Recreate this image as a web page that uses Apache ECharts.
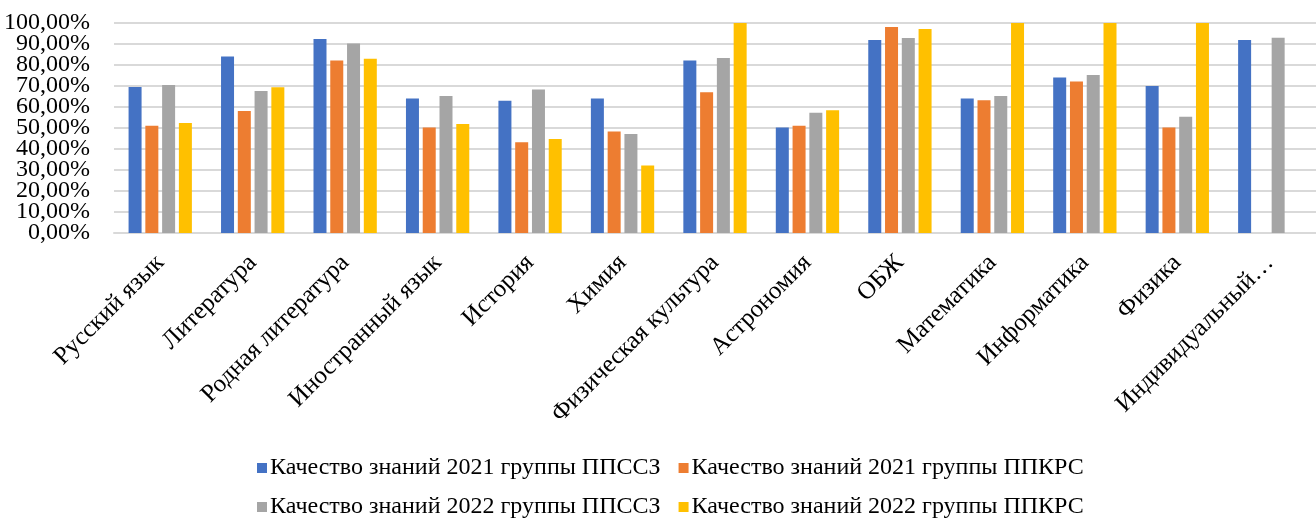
<!DOCTYPE html>
<html>
<head>
<meta charset="utf-8">
<script src="https://cdn.jsdelivr.net/npm/echarts@6/dist/echarts.min.js"></script>
<style>
html,body{margin:0;padding:0;background:#fff;}
#chart{width:1316px;height:520px;}
</style>
</head>
<body>
<div id="chart"></div>
<script>
const categories = ["Русский язык","Литература","Родная литература","Иностранный язык","История","Химия","Физическая культура","Астрономия","ОБЖ","Математика","Информатика","Физика","Индивидуальный проект"];
const seriesNames = ["Качество знаний 2021 группы ППССЗ","Качество знаний 2021 группы ППКРС","Качество знаний 2022 группы ППССЗ","Качество знаний 2022 группы ППКРС"];
const ppssz2021 = [69.5, 84.0, 92.4, 64.1, 63.0, 64.0, 82.1, 50.2, 91.9, 64.0, 74.0, 70.0, 91.9];
const ppkrs2021 = [51.1, 58.1, 82.2, 50.2, 43.2, 48.3, 67.0, 51.1, 98.1, 63.2, 72.1, 50.2, null];
const ppssz2022 = [70.5, 67.6, 90.2, 65.2, 68.3, 47.1, 83.3, 57.3, 92.9, 65.2, 75.2, 55.4, 93.0];
const ppkrs2022 = [52.4, 69.4, 83.0, 51.9, 44.8, 32.1, 100, 58.4, 97.1, 100, 100, 100, null];
const yTicks = [0,10,20,30,40,50,60,70,80,90,100];

const colors = ["#4472C4","#ED7D31","#A5A5A5","#FFC000"];
const font = "'Liberation Serif', 'Times New Roman', serif";
const values = [ppssz2021, ppkrs2021, ppssz2022, ppkrs2022];
const yMin = yTicks[0], yMax = yTicks[yTicks.length - 1], yStep = yTicks[1] - yTicks[0];

const chart = echarts.init(document.getElementById('chart'), null, {renderer:'canvas'});
const legendCommon = {
  left: 252,
  icon: 'rect',
  itemWidth: 10,
  itemHeight: 10,
  itemGap: 18,
  textStyle: {fontFamily: font, fontSize: 24, color: '#000', padding:[0,0,0,-2]},
  selectedMode: false
};
function yLabelStyle(extra) {
  return Object.assign({
    margin: 24,
    fontFamily: font,
    fontSize: 24,
    color: '#000',
    hideOverlap: false
  }, extra);
}
chart.setOption({
  animation: false,
  color: colors,
  grid: {left: 114, top: 23, width: 1208, bottom: 287, containLabel: false},
  legend: [
    Object.assign({}, legendCommon, {top: 451, data: [seriesNames[0], seriesNames[1]]}),
    Object.assign({}, legendCommon, {top: 490, data: [seriesNames[2], seriesNames[3]]})
  ],
  xAxis: {
    type: 'category',
    data: categories,
    axisLine: {lineStyle: {color: '#D9D9D9', width: 2}},
    axisTick: {show: false},
    axisLabel: {
      rotate: 45,
      interval: 0,
      margin: 26,
      fontFamily: font,
      fontSize: 25,
      color: '#000',
      hideOverlap: false,
      formatter: function (v) { return v.length > 20 ? v.split(' ')[0] + '…' : v; }
    }
  },
  yAxis: [
    {
      type: 'value',
      min: yMin, max: yMax, interval: yStep,
      axisLine: {show: false},
      axisTick: {show: false},
      splitLine: {lineStyle: {color: '#D9D9D9', width: 2}},
      axisLabel: yLabelStyle({
        showMinLabel: false,
        showMaxLabel: false,
        formatter: function (v) { return v + ',00%'; }
      })
    },
    {
      type: 'value',
      position: 'left',
      min: yMin, max: yMax, interval: yStep,
      axisLine: {show: false},
      axisTick: {show: false},
      splitLine: {show: false},
      axisLabel: yLabelStyle({
        showMinLabel: true,
        showMaxLabel: true,
        formatter: function (v) { return (v === yMin || v === yMax) ? v + ',00%' : ''; }
      })
    }
  ],
  series: seriesNames.map(function (name, i) {
    return {
      name: name,
      type: 'bar',
      yAxisIndex: 0,
      data: values[i],
      barWidth: 13,
      barGap: '29%',
      itemStyle: {color: colors[i]}
    };
  })
});
</script>
</body>
</html>
